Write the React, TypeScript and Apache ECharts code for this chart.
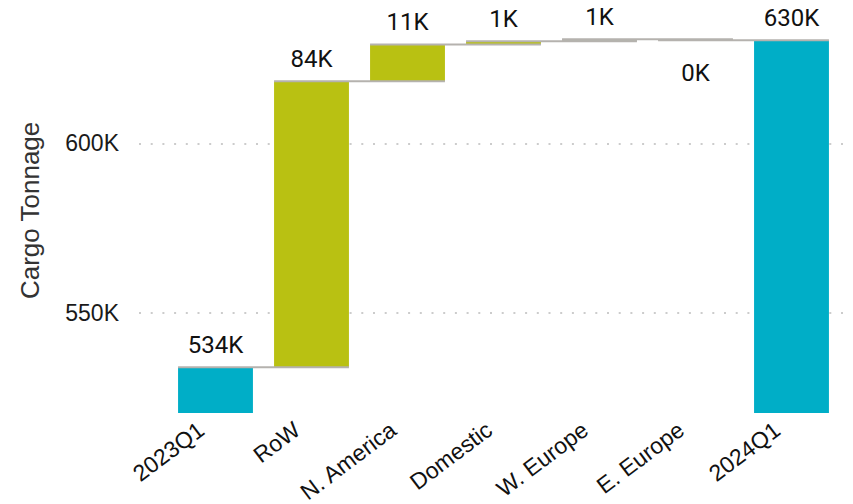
import React, { useEffect, useRef } from "react";
import * as echarts from "echarts";

const categories = ["2023Q1", "RoW", "N. America", "Domestic", "W. Europe", "E. Europe", "2024Q1"];
const startTotal = 533.9;
const deltas = [84.4, 10.9, 0.9, 0.6, -0.3];
const endTotal = 630.4;
const yTicks = [550, 600];
const yMin = 520.4;
const yMax = 640;

const TEAL = "#00aec7";
const OLIVE = "#b9c112";
const GREY_BAR = "#b9b6aa";
const CONNECT = "#b5b2ae";

export default function App() {
  const ref = useRef<HTMLDivElement>(null);
  useEffect(() => {
    if (!ref.current) return;
    const chart = echarts.init(ref.current, undefined, { renderer: "svg" });

    const levels: number[] = [startTotal];
    deltas.forEach((d) => levels.push(levels[levels.length - 1] + d));
    const n = categories.length;
    const base: any[] = [0];
    const totals: any[] = [startTotal];
    const inc: any[] = ["-"];
    const dec: any[] = ["-"];
    deltas.forEach((d, k) => {
      const before = levels[k];
      const after = levels[k + 1];
      base.push(Math.min(before, after));
      totals.push("-");
      if (d >= 0) {
        inc.push(
          categories[k + 1] === "W. Europe"
            ? { value: d, itemStyle: { color: GREY_BAR } }
            : d
        );
        dec.push("-");
      } else {
        inc.push("-");
        dec.push(-d);
      }
    });
    base.push(0);
    totals.push(endTotal);
    inc.push("-");
    dec.push("-");

    const connectorData = levels.map((l, i) => [i, l]);

    const labelStyle = {
      fontFamily: "Roboto",
      fontWeight: "normal",
      fontSize: 24,
      color: "#111",
    };

    const option: any = {
      animation: false,
      grid: [
        { left: 139, right: 1, top: 7.8, bottom: 91, outerBoundsMode: "none", containLabel: false },
        { left: 167.5, right: 13.5, top: 7.8, bottom: 91, outerBoundsMode: "none", containLabel: false },
      ],
      xAxis: [
        { type: "value", gridIndex: 0, show: false, min: 0, max: 1 },
        {
          type: "category",
          gridIndex: 1,
          data: categories,
          axisLine: { show: false },
          axisTick: { show: false },
          axisLabel: {
            interval: 0,
            rotate: 37,
            margin: 3,
            padding: [0, 18, 0, 0],
            fontFamily: "Liberation Sans",
            fontSize: 23,
            color: "#111",
          },
        },
      ],
      yAxis: [
        {
          type: "value",
          gridIndex: 0,
          min: yMin,
          max: yMax,
          name: "Cargo Tonnage",
          nameLocation: "middle",
          nameGap: 96,
          nameTextStyle: { fontFamily: "Liberation Sans", fontSize: 26, color: "#333" },
          axisLine: { show: false },
          axisTick: { show: false, customValues: yTicks },
          axisLabel: {
            customValues: yTicks,
            margin: 20,
            formatter: (v: number) => `${v}K`,
            fontFamily: "Liberation Sans",
            fontSize: 23,
            color: "#1a1a1a",
          },
          splitLine: {
            show: true,
            lineStyle: { color: "#cccccc", width: 2, type: [2, 9.7] },
          },
        },
        {
          type: "value",
          gridIndex: 1,
          min: yMin,
          max: yMax,
          show: false,
          splitLine: { show: false },
        },
      ],
      series: [
        {
          name: "base",
          type: "bar",
          xAxisIndex: 1,
          yAxisIndex: 1,
          stack: "w",
          barCategoryGap: "22%",
          itemStyle: { color: "transparent" },
          emphasis: { disabled: true },
          data: base,
          silent: true,
        },
        {
          name: "total",
          type: "bar",
          xAxisIndex: 1,
          yAxisIndex: 1,
          stack: "w",
          itemStyle: { color: TEAL },
          data: totals,
          label: {
            show: true,
            position: "top",
            distance: 10,
            formatter: (p: any) => `${Math.round(p.value)}K`,
            ...labelStyle,
          },
        },
        {
          name: "increase",
          type: "bar",
          xAxisIndex: 1,
          yAxisIndex: 1,
          stack: "w",
          itemStyle: { color: OLIVE },
          data: inc,
          label: {
            show: true,
            position: "top",
            distance: 10,
            formatter: (p: any) => `${Math.round(p.value)}K`,
            ...labelStyle,
          },
        },
        {
          name: "decrease",
          type: "bar",
          xAxisIndex: 1,
          yAxisIndex: 1,
          stack: "w",
          itemStyle: { color: GREY_BAR },
          data: dec,
          label: {
            show: true,
            position: "bottom",
            distance: 21,
            formatter: (p: any) => `${Math.round(-p.value) === 0 ? 0 : Math.round(-p.value)}K`,
            ...labelStyle,
          },
        },
        {
          name: "connectors",
          type: "custom",
          xAxisIndex: 1,
          yAxisIndex: 1,
          z: 5,
          silent: true,
          encode: { x: 0, y: 1 },
          data: connectorData.slice(0, n - 1),
          renderItem: (params: any, api: any) => {
            const i = api.value(0);
            const lvl = api.value(1);
            const p0 = api.coord([i, lvl]);
            const p1 = api.coord([i + 1, lvl]);
            const bw = api.size([1, 0])[0] * 0.78;
            return {
              type: "line",
              shape: { x1: p0[0] - bw / 2, y1: p0[1], x2: p1[0] + bw / 2, y2: p0[1] },
              style: { stroke: CONNECT, lineWidth: 2 },
            };
          },
        },
      ],
    };
    chart.setOption(option);
    return () => chart.dispose();
  }, []);
  return (
    <div
      ref={ref}
      style={{ position: "fixed", left: 0, top: 0, width: 853, height: 504, background: "#fff" }}
    />
  );
}
